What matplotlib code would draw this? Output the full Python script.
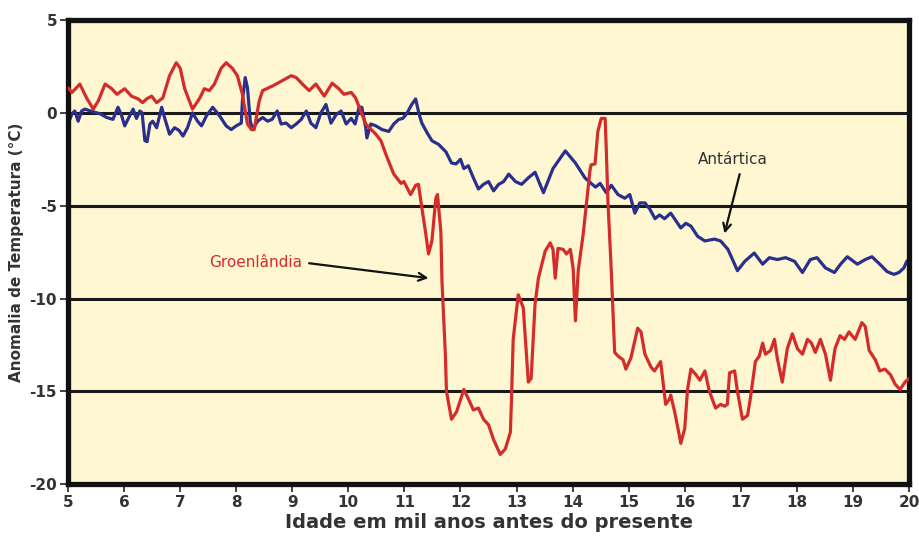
import matplotlib
matplotlib.use('Agg')
import matplotlib.pyplot as plt

# Groenlândia (red) - age in kyr, temperature anomaly in °C
greenland_age = [5.0, 5.07, 5.21, 5.33, 5.45, 5.54, 5.66, 5.78, 5.87, 6.01, 6.13, 6.25, 6.33, 6.4,
                 6.49, 6.58, 6.69, 6.81, 6.93, 7.0, 7.08, 7.22, 7.35, 7.43, 7.52, 7.61, 7.73, 7.82,
                 7.93, 8.02, 8.11, 8.2, 8.27, 8.32, 8.41, 8.47, 8.65, 8.8, 8.98, 9.07, 9.18, 9.3,
                 9.42, 9.57, 9.71, 9.83, 9.92, 10.05, 10.13, 10.22, 10.31, 10.49, 10.58, 10.69,
                 10.81, 10.94, 10.99, 11.11, 11.2, 11.25, 11.31, 11.38, 11.43, 11.49, 11.56, 11.59,
                 11.65, 11.67, 11.73, 11.75, 11.84, 11.93, 12.06, 12.14, 12.23, 12.32, 12.41, 12.5,
                 12.59, 12.71, 12.8, 12.89, 12.91, 12.94, 13.03, 13.12, 13.21, 13.26, 13.33, 13.39,
                 13.51, 13.6, 13.65, 13.69, 13.74, 13.83, 13.89, 13.96, 14.01, 14.05, 14.1, 14.19,
                 14.24, 14.31, 14.33, 14.4, 14.45, 14.51, 14.58, 14.6, 14.63, 14.67, 14.69, 14.72,
                 14.75, 14.81, 14.9, 14.95, 15.04, 15.16, 15.22, 15.29, 15.4, 15.46, 15.57, 15.64,
                 15.66, 15.73, 15.75, 15.82, 15.88, 15.93, 16.0, 16.05, 16.11, 16.2, 16.27, 16.36,
                 16.44, 16.55, 16.64, 16.71, 16.76, 16.8, 16.89, 16.94, 17.03, 17.12, 17.17, 17.26,
                 17.33, 17.39, 17.44, 17.53, 17.6, 17.65, 17.74, 17.83, 17.92, 18.01, 18.1, 18.19,
                 18.26, 18.33, 18.42, 18.51, 18.6, 18.68, 18.77, 18.85, 18.93, 19.04, 19.16, 19.22,
                 19.29, 19.4, 19.48, 19.57, 19.67, 19.75, 19.84, 19.93, 20.0]
greenland_temp = [1.35, 1.1, 1.55, 0.8, 0.2, 0.65, 1.55, 1.3, 1.0, 1.3, 0.9, 0.75, 0.55, 0.75,
                  0.9, 0.55, 0.8, 2.0, 2.7, 2.4, 1.3, 0.2, 0.8, 1.3, 1.2, 1.55, 2.4, 2.7,
                  2.4, 2.0, 1.0, -0.6, -0.9, -0.9, 0.65, 1.2, 1.45, 1.7, 2.0, 1.9, 1.55, 1.2,
                  1.55, 0.9, 1.6, 1.3, 1.0, 1.1, 0.8, 0.1, -0.6, -1.15, -1.5, -2.4,
                  -3.3, -3.8, -3.7, -4.4, -3.9, -3.85, -5.1, -6.5, -7.6, -6.9, -4.6, -4.4,
                  -6.4, -9.1, -13.0, -15.0, -16.5, -16.1, -14.9, -15.4, -16.0, -15.9, -16.5, -16.8,
                  -17.6, -18.4, -18.1, -17.2, -15.4, -12.2, -9.8, -10.5, -14.5, -14.3, -10.3, -8.9,
                  -7.45, -7.0, -7.35, -8.9, -7.3, -7.35, -7.6, -7.35, -8.4, -11.2, -8.5, -6.5,
                  -5.1, -3.1, -2.8, -2.75, -1.0, -0.3, -0.3, -1.9, -4.75, -7.3, -8.5, -10.7,
                  -12.9, -13.1, -13.3, -13.8, -13.2, -11.6, -11.8, -13.0, -13.7, -13.9, -13.4, -15.2,
                  -15.7, -15.4, -15.2, -16.1, -17.0, -17.8, -17.0, -14.9, -13.8, -14.1, -14.4, -13.9,
                  -15.0, -15.9, -15.7, -15.8, -15.7, -14.0, -13.9, -15.0, -16.5, -16.3, -15.4, -13.4,
                  -13.1, -12.4, -13.0, -12.8, -12.2, -13.2, -14.5, -12.7, -11.9, -12.7, -13.0, -12.2,
                  -12.4, -12.9, -12.2, -13.0, -14.4, -12.7, -12.0, -12.2, -11.8, -12.2, -11.3, -11.5,
                  -12.8, -13.3, -13.9, -13.8, -14.1, -14.6, -14.9, -14.5, -14.3]

# Antártica (blue)
antarctica_age = [5.0, 5.07, 5.12, 5.18, 5.24, 5.3, 5.4, 5.57, 5.69, 5.8, 5.89, 5.95, 6.01, 6.1,
                  6.16, 6.22, 6.28, 6.32, 6.37, 6.41, 6.46, 6.51, 6.58, 6.67, 6.72, 6.81, 6.9, 6.98,
                  7.05, 7.13, 7.22, 7.31, 7.38, 7.47, 7.58, 7.7, 7.82, 7.91, 8.0, 8.09, 8.11, 8.16,
                  8.2, 8.25, 8.29, 8.38, 8.47, 8.56, 8.64, 8.73, 8.8, 8.89, 8.98, 9.07, 9.16, 9.25,
                  9.33, 9.42, 9.51, 9.6, 9.69, 9.78, 9.87, 9.96, 10.05, 10.12, 10.19, 10.24, 10.31,
                  10.33, 10.4, 10.49, 10.6, 10.72, 10.81, 10.9, 10.97, 11.04, 11.13, 11.2, 11.26,
                  11.31, 11.4, 11.49, 11.61, 11.74, 11.84, 11.92, 12.0, 12.06, 12.14, 12.23, 12.32,
                  12.41, 12.5, 12.59, 12.68, 12.77, 12.86, 12.98, 13.09, 13.21, 13.33, 13.48, 13.65,
                  13.87, 14.05, 14.22, 14.33, 14.41, 14.49, 14.6, 14.69, 14.81, 14.93, 15.02, 15.11,
                  15.2, 15.29, 15.38, 15.47, 15.55, 15.64, 15.75, 15.84, 15.93, 16.02, 16.11, 16.23,
                  16.36, 16.53, 16.64, 16.77, 16.89, 16.94, 17.07, 17.24, 17.39, 17.51, 17.65, 17.8,
                  17.96, 18.1, 18.24, 18.36, 18.51, 18.67, 18.78, 18.9, 19.08, 19.22, 19.34, 19.48,
                  19.61, 19.73, 19.82, 19.91, 19.96, 20.0]
antarctica_temp = [-0.6, -0.05, 0.1, -0.45, 0.1, 0.2, 0.1, -0.05, -0.25, -0.35, 0.3, -0.1, -0.7, -0.15,
                   0.2, -0.3, 0.1, 0.0, -1.5, -1.55, -0.6, -0.45, -0.8, 0.3, -0.25, -1.15, -0.8, -0.95,
                   -1.25, -0.8, 0.0, -0.45, -0.7, -0.15, 0.3, -0.15, -0.7, -0.9, -0.7, -0.55, 0.65, 1.9,
                   1.35, -0.45, -0.9, -0.45, -0.25, -0.45, -0.35, 0.1, -0.6, -0.55, -0.8, -0.6, -0.35, 0.1,
                   -0.55, -0.8, 0.0, 0.45, -0.55, -0.1, 0.1, -0.6, -0.3, -0.6, 0.3, 0.3, -0.8,
                   -1.35, -0.6, -0.7, -0.9, -1.0, -0.6, -0.35, -0.3, -0.05, 0.45, 0.75, -0.05,
                   -0.55, -1.05, -1.5, -1.7, -2.1, -2.7, -2.75, -2.5, -3.0, -2.85, -3.5, -4.1,
                   -3.85, -3.7, -4.2, -3.85, -3.7, -3.3, -3.7, -3.85, -3.5, -3.2, -4.3, -3.0,
                   -2.05, -2.7, -3.5, -3.8, -4.0, -3.8, -4.3, -3.9, -4.4, -4.6, -4.4, -5.4,
                   -4.85, -4.85, -5.2, -5.7, -5.5, -5.7, -5.4, -5.8, -6.2, -5.95, -6.1, -6.65,
                   -6.9, -6.8, -6.9, -7.35, -8.15, -8.5, -8.0, -7.55, -8.15, -7.8, -7.9, -7.8,
                   -8.0, -8.6, -7.9, -7.8, -8.35, -8.6, -8.15, -7.75, -8.15, -7.9, -7.75, -8.15,
                   -8.55, -8.7, -8.6, -8.35, -8.0, -7.9]

x_ticks = list(range(5, 21))
y_ticks = [5, 0, -5, -10, -15, -20]
y_ticklabels = ['5', '0', '-5', '-10', '-15', '-20']
grid_levels = [0, -5, -10, -15]

fig = plt.figure(figsize=(9.2, 5.41), dpi=100)
ax = fig.add_axes([0.074, 0.105, 0.914, 0.858])
ax.set_facecolor('#fef7d2')

for g in grid_levels:
    ax.axhline(g, color='#1a1a1a', lw=2.2, zorder=1)

ax.plot(greenland_age, greenland_temp, color='#d42b2b', lw=2.3, zorder=3,
        solid_joinstyle='round', solid_capstyle='round')
ax.plot(antarctica_age, antarctica_temp, color='#2a2f8c', lw=2.3, zorder=2,
        solid_joinstyle='round', solid_capstyle='round')

ax.set_xlim(5, 20)
ax.set_ylim(-20, 5)
ax.set_xticks(x_ticks)
ax.set_xticklabels([str(t) for t in x_ticks], fontsize=11, fontweight='bold', color='#333333')
ax.set_yticks(y_ticks)
ax.set_yticklabels(y_ticklabels, fontsize=11, fontweight='bold', color='#333333')
ax.tick_params(axis='both', direction='out', length=6, width=1.3, color='#333333', pad=2)

for side in ['left', 'bottom', 'top', 'right']:
    ax.spines[side].set_linewidth(3.8)
    ax.spines[side].set_color('#111111')

ax.set_xlabel('Idade em mil anos antes do presente', fontsize=14, fontweight='bold',
              color='#333333', labelpad=2)
ax.set_ylabel('Anomalia de Temperatura (°C)', fontsize=11, fontweight='bold',
              color='#333333', labelpad=4)

# labels and arrows
ax.text(8.34, -8.05, 'Groenlândia', fontsize=11, color='#d42b2b', ha='center', va='center', zorder=5)
ax.annotate('', xy=(11.43, -8.9), xytext=(9.3, -8.1),
            arrowprops=dict(arrowstyle='->', color='#111111', lw=1.6,
                            shrinkA=0, shrinkB=0, mutation_scale=14), zorder=5)
ax.text(16.85, -2.5, 'Antártica', fontsize=11, color='#333333', ha='center', va='center', zorder=5)
ax.annotate('', xy=(16.71, -6.5), xytext=(16.98, -3.3),
            arrowprops=dict(arrowstyle='->', color='#111111', lw=1.6,
                            shrinkA=0, shrinkB=0, mutation_scale=14), zorder=5)

fig.savefig('out.png', dpi=100)
